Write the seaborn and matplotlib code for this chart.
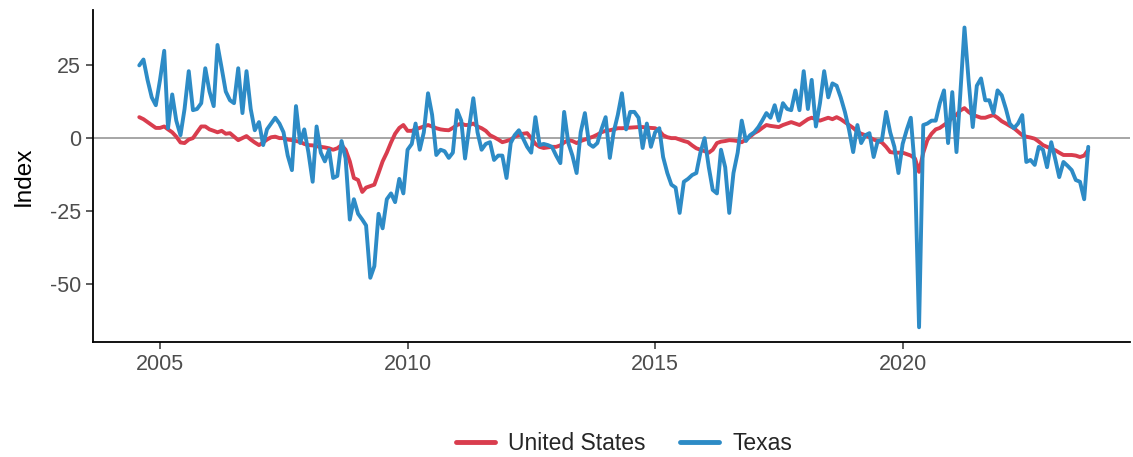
import pandas as pd
import numpy as np
import matplotlib
matplotlib.use('Agg')
import matplotlib.pyplot as plt
import matplotlib.dates as mdates
import seaborn as sns

# Monthly index values, Aug 2004 - Oct 2023
START_MONTH = '2004-08-01'

us_values = [
    7.2, 6.5, 5.5, 4.5, 3.5, 3.5, 4, 3, 2, 0.5, -1.5, -1.7, -0.5, 0, 2, 4, 4, 3, 2.5, 2,
    2.5, 1.5, 1.7, 0.5, -0.7, 0, 0.7, -0.5, -1.5, -2.4, -1.5, -0.5, 0.3, 0.5, 0, 0, -0.5, -0.7, -1, -1.3,
    -2, -2.4, -2.5, -2.8, -3, -3.2, -3.5, -4, -3.5, -2.4, -4, -8, -13.7, -14.4, -18.5, -17, -16.5, -16, -12, -8,
    -5, -1.5, 1.5, 3.5, 4.5, 2.5, 2.5, 3, 3.5, 4, 4.5, 4, 3.4, 3, 2.8, 2.7, 3.5, 4.5, 5, 4.5,
    4.5, 5, 4, 3.4, 2.5, 1, 0.3, -0.5, -1.4, -1, -0.5, 0.5, 1, 1.5, 1.7, 0, -2, -3, -3.4, -3.2,
    -3, -3, -2.5, -1.5, -0.7, -1, -1.7, -1, -0.5, 0, 0.5, 1.2, 2, 2.5, 2.7, 3, 3.4, 3.4, 3.5, 3.6,
    3.7, 3.8, 3.8, 3.6, 3.5, 3.4, 2.5, 1, 0.3, 0, 0, -0.5, -1, -1.4, -2.5, -3.5, -4, -4.5, -5, -4,
    -1.7, -1.2, -1, -0.7, -0.8, -1, -1.4, -0.5, 0.5, 1.7, 2.5, 3.5, 4.5, 4.2, 4, 3.8, 4.5, 5, 5.5, 5,
    4.5, 5.5, 6.5, 7, 6.5, 6, 6.5, 7, 6.5, 7.2, 6.5, 5.5, 4.5, 3.5, 2.2, 1.5, 1, 0.3, -0.5, -1,
    -1.5, -3, -4.8, -5, -5, -5, -5.5, -6, -7, -11.6, -5, -0.7, 1.5, 3, 3.5, 4.5, 5.5, 7, 8, 9.5,
    10.3, 9, 8, 7.5, 7, 7, 7.5, 7.9, 7, 5.8, 5, 4.2, 3.4, 2.2, 1, 0.5, 0.2, -0.2, -1.2, -2.4,
    -3, -3.7, -4.2, -5, -5.8, -5.8, -5.8, -6, -6.5, -6, -4,
]

tx_values = [
    25, 27, 20, 14, 11.3, 20, 30, 3.4, 15, 6, 1, 10, 23, 9.6, 10, 12, 24, 16, 11, 32,
    24, 16, 13, 12, 24, 8.6, 23, 10, 2.7, 5.5, -2.4, 3, 5, 7, 5, 2, -6, -11, 11, -1.7,
    3, -5, -15, 4, -5, -8, -4, -13.7, -13, -1, -7, -28, -21, -26, -28, -30, -48, -44, -26, -31,
    -21, -19, -22, -14, -19, -4, -2, 5, -4, 2, 15.4, 8, -5.8, -4, -4.5, -6.8, -5, 9.6, 6, -7,
    4, 13.7, 2, -4, -2, -1.4, -7.5, -6, -6, -13.7, -1.7, 1, 2.7, 0, -3, -5, 7.2, -2.4, -2, -2.4,
    -3, -6, -8.6, 9, -1.7, -6, -12, 2, 8.6, -2, -3, -1.7, 3, 7.2, -6.8, 2, 8, 15.4, 3, 9,
    9, 7, -3.4, 5, -3, 2, 3.4, -6.5, -12, -16, -17, -25.7, -15, -14, -12.7, -12, -5, 0, -10, -17.8,
    -19, -4, -10, -25.7, -12, -5, 6, -1, 1, 2, 3.8, 6, 8.6, 7, 11.3, 6, 12, 10, 9.6, 16.4,
    9.6, 23, 10, 20, 4, 12, 23, 14, 18.8, 18, 14, 9, 3, -4.8, 4.5, -1.7, 1, 1.7, -6.5, -1,
    -0.7, 9, 2, -3, -12, -2, 3, 7, -11, -65, 4.5, 5, 6, 6, 12, 16.4, -1.7, 15.8, -4.8, 15,
    38, 20, 3.8, 18, 20.5, 13, 13, 8.6, 16.4, 14.7, 10, 5, 3.4, 5, 7.9, -8.2, -7.5, -9.2, -3, -4,
    -10, -1.4, -7.5, -13.4, -8.2, -9.5, -11, -14.4, -15, -21, -3,
]

series_names = ['United States', 'Texas']
line_colors = ['#D93D4E', '#2D8BC6']

dates = pd.date_range(START_MONTH, periods=len(us_values), freq='MS')
df = pd.concat([
    pd.DataFrame({'date': dates, 'value': us_values, 'region': series_names[0]}),
    pd.DataFrame({'date': dates, 'value': tx_values, 'region': series_names[1]}),
])

sns.set_theme(style='ticks')
plt.rcParams['font.family'] = ['Liberation Sans', 'DejaVu Sans']
plt.rcParams['axes.unicode_minus'] = False

fig = plt.figure(figsize=(11.33, 4.57), dpi=100)
ax = fig.add_axes([0.082, 0.252, 0.915, 0.726])

ax.axhline(0, color='#a6a6a6', lw=1.4, zorder=1)
sns.lineplot(data=df, x='date', y='value', hue='region', hue_order=series_names,
             palette=line_colors, lw=2.8, ax=ax, legend=True)

ax.set_xlim(pd.Timestamp('2003-08-25'), pd.Timestamp('2024-08-01'))
ax.set_ylim(-70, 44)
ax.set_yticks([25, 0, -25, -50])
ax.xaxis.set_major_locator(mdates.YearLocator(5))
ax.xaxis.set_major_formatter(mdates.DateFormatter('%Y'))

ax.set_xlabel('')
ax.set_ylabel('Index', fontsize=17.5, color='black', labelpad=11)
ax.tick_params(axis='both', labelsize=15.5, colors='#4d4d4d', length=5, width=1.1)
ax.tick_params(axis='both', color='#333333')
for side in ['top', 'right']:
    ax.spines[side].set_visible(False)
for side in ['left', 'bottom']:
    ax.spines[side].set_linewidth(1.3)
    ax.spines[side].set_color('black')

handles, labels = ax.get_legend_handles_labels()
ax.get_legend().remove()
for h in handles:
    h.set_linewidth(3.5)
fig.legend(handles, labels, loc='center', bbox_to_anchor=(0.551, 0.03), ncol=2,
           frameon=False, fontsize=16.5, handlelength=1.7, handletextpad=0.6,
           columnspacing=1.5)

plt.savefig('out.png', dpi=100)
plt.close()
